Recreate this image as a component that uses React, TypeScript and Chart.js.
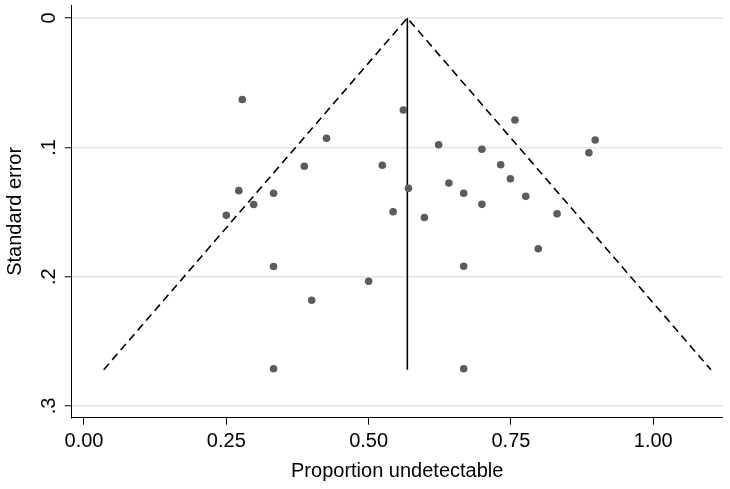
import { useEffect, useRef } from "react";
import { Chart, registerables } from "chart.js";

Chart.register(...registerables);

// Study estimates (proportion undetectable vs. standard error)
const proportion = [
  0.278, 0.561, 0.757, 0.898, 0.426, 0.623, 0.699, 0.887, 0.387, 0.524, 0.732,
  0.272, 0.333, 0.570, 0.641, 0.749, 0.298, 0.667, 0.776, 0.250, 0.543, 0.598,
  0.699, 0.831, 0.798, 0.333, 0.667, 0.500, 0.400, 0.333, 0.667,
];
const standardError = [
  0.063, 0.0711, 0.0789, 0.0943, 0.093, 0.098, 0.1015, 0.1042, 0.1146, 0.1139, 0.1134,
  0.1335, 0.1355, 0.1317, 0.1276, 0.1243, 0.1442, 0.1355, 0.1379, 0.1526, 0.1498, 0.1543,
  0.1441, 0.1513, 0.1784, 0.1921, 0.192, 0.2036, 0.2183, 0.2712, 0.2712,
];

// Pseudo 95% confidence limits (funnel) and pooled estimate
const funnelX = [0.0346, 0.568, 1.1013];
const funnelY = [0.272, 0, 0.272];
const pooledX = [0.568, 0.568];
const pooledY = [0, 0.272];

const xTicks = [0, 0.25, 0.5, 0.75, 1];
const xTickLabels = ["0.00", "0.25", "0.50", "0.75", "1.00"];
const yTicks = [0, 0.1, 0.2, 0.3];
const yTickLabels = ["0", ".1", ".2", ".3"];

const FONT = '"Liberation Sans", Arial, Helvetica, sans-serif';

export default function App() {
  const ref = useRef<HTMLCanvasElement | null>(null);

  useEffect(() => {
    if (!ref.current) return;
    const chart = new Chart(ref.current, {
      type: "scatter",
      data: {
        datasets: [
          {
            label: "Studies",
            data: proportion.map((x, i) => ({ x, y: standardError[i] })),
            backgroundColor: "#5c5c5c",
            borderWidth: 0,
            pointRadius: 3.8,
            order: 0,
          },
          {
            label: "Pooled",
            data: pooledX.map((x, i) => ({ x, y: pooledY[i] })),
            showLine: true,
            borderColor: "#000",
            borderWidth: 1.6,
            pointRadius: 0,
            order: 1,
          },
          {
            label: "Funnel",
            data: funnelX.map((x, i) => ({ x, y: funnelY[i] })),
            showLine: true,
            borderColor: "#000",
            borderWidth: 1.6,
            borderDash: [8, 5],
            pointRadius: 0,
            order: 2,
          },
        ],
      },
      options: {
        responsive: false,
        animation: false,
        layout: { padding: { left: 0, top: 5, right: 7.3, bottom: 0 } },
        plugins: { legend: { display: false }, tooltip: { enabled: false } },
        scales: {
          x: {
            type: "linear",
            min: -0.0216,
            max: 1.122,
            afterBuildTicks: (s: any) => {
              s.ticks = xTicks.map((v) => ({ value: v }));
            },
            afterFit: (s: any) => {
              s.height = 71.3;
              s.paddingLeft = 0;
              s.paddingRight = 0;
              s.paddingTop = 0;
              s.paddingBottom = 0;
            },
            ticks: {
              callback: (v: any) => xTickLabels[xTicks.indexOf(Number(v))] ?? "",
              font: { family: FONT, size: 20 },
              color: "#000",
              padding: 5,
              minRotation: 0,
              maxRotation: 0,
              autoSkip: false,
            },
            grid: {
              drawOnChartArea: false,
              drawTicks: true,
              tickLength: 7,
              tickColor: "#000",
              tickWidth: 1,
            },
            border: { display: true, color: "#000", width: 1 },
            title: {
              display: true,
              text: "Proportion undetectable",
              font: { family: FONT, size: 20 },
              color: "#000",
              padding: { top: 0, bottom: 6 },
            },
          },
          y: {
            type: "linear",
            reverse: true,
            min: -0.0101,
            max: 0.3091,
            afterBuildTicks: (s: any) => {
              s.ticks = yTicks.map((v) => ({ value: v }));
            },
            afterFit: (s: any) => {
              s.width = 71.7;
              s.paddingLeft = 0;
              s.paddingRight = 0;
              s.paddingTop = 0;
              s.paddingBottom = 0;
            },
            ticks: {
              callback: (v: any) => {
                const idx = yTicks.findIndex((t) => Math.abs(t - Number(v)) < 1e-9);
                return idx >= 0 ? yTickLabels[idx] : "";
              },
              font: { family: FONT, size: 20 },
              color: "#000",
              padding: 7,
              minRotation: 90,
              maxRotation: 90,
              crossAlign: "center",
              autoSkip: false,
            },
            grid: {
              color: "#e4e4e4",
              lineWidth: 1.5,
              drawTicks: true,
              tickLength: 7,
              tickColor: "#000",
              tickWidth: 1,
            },
            border: { display: true, color: "#000", width: 1 },
            title: {
              display: true,
              text: "Standard error",
              font: { family: FONT, size: 20 },
              color: "#000",
              padding: { top: 3, bottom: 0 },
            },
          },
        },
      },
    } as any);
    return () => chart.destroy();
  }, []);

  return (
    <div style={{ position: "fixed", left: 0, top: 0, width: 730, height: 489, background: "#fff" }}>
      <canvas ref={ref} width={730} height={489} style={{ display: "block" }} />
    </div>
  );
}
